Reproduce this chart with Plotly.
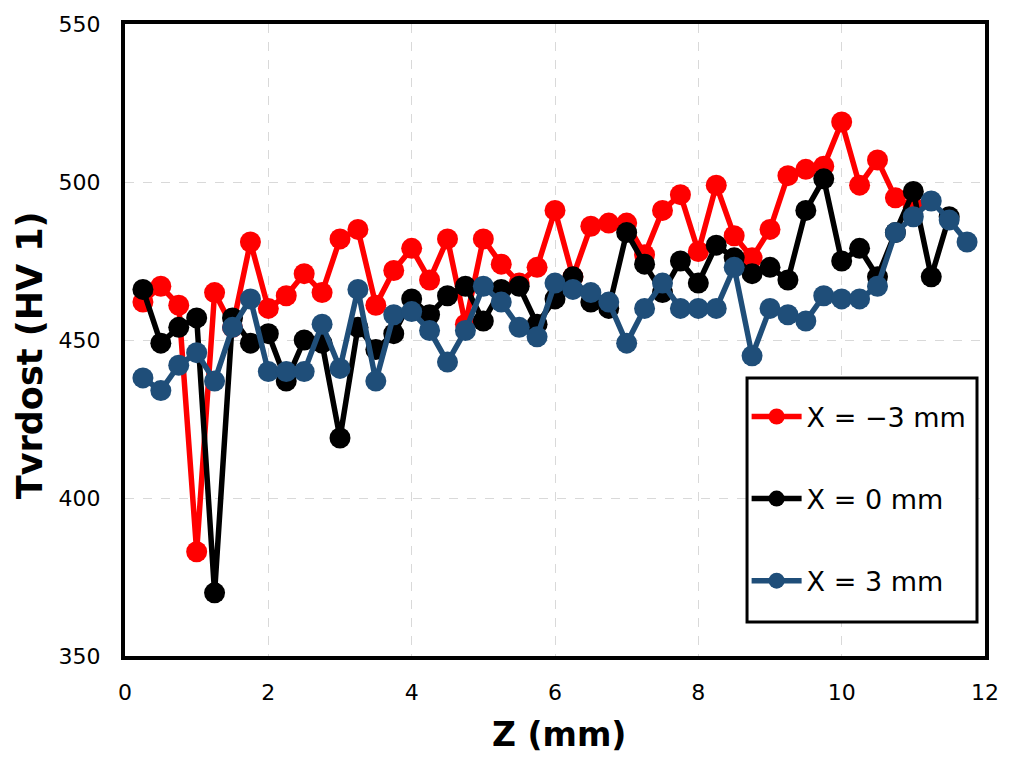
import plotly.graph_objects as go

# Measurement positions along Z (mm)
z = [0.25 * i for i in range(1, 48)]

# Hardness HV 1 for each transverse position X
hv_minus3 = [462, 467, 461, 383, 465, 454, 481, 460, 464, 471, 465, 482, 485, 461, 472, 479,
             469, 482, 455, 482, 474, 468, 473, 491, 470, 486, 487, 487, 477, 491, 496, 478,
             499, 483, 476, 485, 502, 504, 505, 519, 499, 507, 495, 492]
hv_0 = [466, 449, 454, 457, 370, 457, 449, 452, 437, 450, 449, 419, 454, 447, 452, 463,
        458, 464, 467, 456, 466, 467, 455, 463, 470, 462, 460, 484, 474, 465, 475, 468,
        480, 476, 471, 473, 469, 491, 501, 475, 479, 470, 484, 497, 470, 489]
hv_plus3 = [438, 434, 442, 446, 437, 454, 463, 440, 440, 440, 455, 441, 466, 437, 458, 459,
            453, 443, 453, 467, 462, 454, 451, 468, 466, 465, 462, 449, 460, 468, 460, 460,
            460, 473, 445, 460, 458, 456, 464, 463, 463, 467, 484, 489, 494, 488, 481]

series = [
    ("X = \u22123 mm", hv_minus3, "#FF0000"),
    ("X = 0 mm", hv_0, "#000000"),
    ("X = 3 mm", hv_plus3, "#1F4E79"),
]

fig = go.Figure()
for i, (name, vals, color) in enumerate(series):
    fig.add_trace(go.Scatter(
        x=z[:len(vals)], y=vals, name=name, mode="lines+markers",
        line=dict(color=color, width=5.5),
        marker=dict(color=color, size=21),
        legendgroup=f"g{i}",
    ))

font_family = "DejaVu Sans"

# Framed white box behind the legend entries
fig.add_shape(
    type="rect", xref="paper", yref="paper",
    x0=0.7233, x1=0.9907, y0=0.0536, y1=0.440,
    line=dict(color="black", width=3), fillcolor="white", layer="above",
)

# Axis titles
fig.add_annotation(
    text="<b>Tvrdost (HV 1)</b>", xref="paper", yref="paper",
    x=-0.1105, y=0.476, xanchor="center", yanchor="middle",
    textangle=-90, showarrow=False,
    font=dict(size=35, family=font_family, color="black"),
)
fig.add_annotation(
    text="<b>Z (mm)</b>", xref="paper", yref="paper",
    x=0.505, y=-0.124, xanchor="center", yanchor="middle",
    showarrow=False,
    font=dict(size=33, family=font_family, color="black"),
)

fig.update_layout(
    width=1012, height=758,
    margin=dict(l=125, r=27, t=22, b=102),
    paper_bgcolor="white", plot_bgcolor="white",
    font=dict(family=font_family, color="black"),
    legend=dict(
        x=0.7228, y=0.417, xanchor="left", yanchor="top",
        bgcolor="rgba(0,0,0,0)", borderwidth=0,
        font=dict(size=27, family=font_family),
        tracegroupgap=44, itemwidth=50,
    ),
    xaxis=dict(
        range=[0, 12], dtick=2, tick0=0,
        showgrid=True, gridcolor="#D9D9D9", griddash="dash", gridwidth=1,
        showline=True, linecolor="black", linewidth=4, mirror=True,
        ticks="", ticklabelstandoff=14,
        tickfont=dict(size=22, family=font_family),
        zeroline=False,
    ),
    yaxis=dict(
        range=[350, 550], dtick=50, tick0=350,
        showgrid=True, gridcolor="#D9D9D9", griddash="dash", gridwidth=1,
        showline=True, linecolor="black", linewidth=4, mirror=True,
        ticks="", ticklabelstandoff=16,
        tickfont=dict(size=22, family=font_family),
        zeroline=False,
    ),
)

fig.write_html("out.html")
